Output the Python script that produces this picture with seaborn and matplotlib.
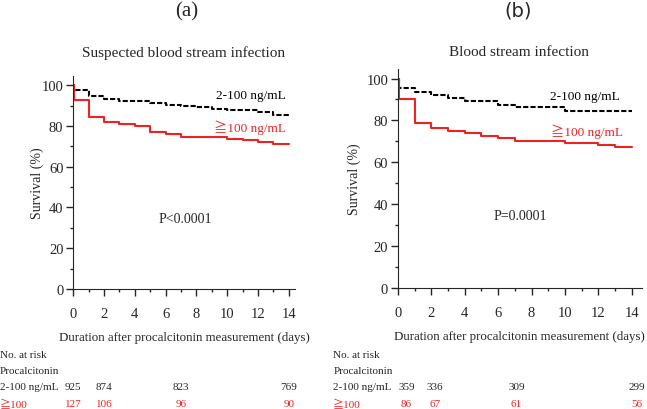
import matplotlib
matplotlib.use('Agg')
import matplotlib.pyplot as plt
import matplotlib.transforms as mtransforms
from matplotlib.ticker import MultipleLocator
import seaborn as sns
import pandas as pd

sns.set_style('ticks')
plt.rcParams['font.family'] = ['Liberation Serif', 'Noto Sans CJK JP', 'DejaVu Sans']

# (a) suspected blood stream infection
a_low_t = [0, 0.05, 1, 2, 3, 5, 6, 7, 8, 9, 10, 12, 13, 14]
a_low_s = [100, 97.7, 94.9, 93.2, 92.1, 91.2, 90.4, 89.8, 89.1, 88.3, 87.6, 86.9, 85.6, 85.6]
a_high_t = [0, 0.05, 1, 2, 3, 4, 5, 6, 7, 10, 11, 12, 13, 14]
a_high_s = [100, 92.8, 84.3, 82.0, 81.0, 80.2, 77.0, 76.0, 74.7, 73.7, 72.9, 72.1, 71.2, 71.2]

# (b) blood stream infection
b_low_t = [0, 0.05, 1, 2, 3, 4, 6, 7, 10, 14]
b_low_s = [100, 95.7, 93.4, 92.2, 90.5, 89.4, 87.3, 86.3, 84.6, 84.6]
b_high_t = [0, 0.05, 1, 2, 3, 4, 5, 6, 7, 10, 12, 13, 14]
b_high_s = [100, 90.1, 78.6, 76.2, 75.1, 74.0, 72.7, 71.6, 70.3, 69.0, 68.1, 67.1, 67.1]

# number at risk
risk_a_low = [925, 874, 823, 769]
risk_a_high = [127, 106, 96, 90]
risk_b_low = [359, 336, 309, 299]
risk_b_high = [86, 67, 61, 56]
risk_x_a = [0, 2, 7, 14]
risk_x_b = [0.5, 2.2, 7.1, 14.3]

RED = '#ee2222'
SERIF = ['Liberation Serif', 'Noto Sans CJK JP']

fig = plt.figure(figsize=(6.47, 4.10), dpi=100)
ax_a = fig.add_axes([0.113, 0.293, 0.343, 0.519])
ax_b = fig.add_axes([0.615, 0.295, 0.377, 0.534])


def draw_panel(ax, lt, ls, ht, hs, xmax, ptext, lab_low, lab_high, ylab_x):
    df_low = pd.DataFrame({'day': lt, 'surv': ls})
    df_high = pd.DataFrame({'day': ht, 'surv': hs})
    sns.lineplot(data=df_low, x='day', y='surv', ax=ax, color='black',
                 drawstyle='steps-post', lw=1.5)
    ax.lines[-1].set_linestyle((0, (2.5, 1)))
    sns.lineplot(data=df_high, x='day', y='surv', ax=ax, color=RED,
                 drawstyle='steps-post', lw=1.5)
    ax.set_xlim(0, xmax)
    ax.set_ylim(0, 104.5)
    ax.xaxis.set_major_locator(MultipleLocator(2))
    ax.xaxis.set_minor_locator(MultipleLocator(1))
    ax.yaxis.set_major_locator(MultipleLocator(20))
    ax.yaxis.set_minor_locator(MultipleLocator(10))
    ax.tick_params(which='major', length=5, width=1, labelsize=10.5, pad=8,
                   labelfontfamily='Liberation Serif')
    ax.tick_params(axis='y', which='major', pad=2)
    ax.tick_params(which='minor', length=2.5, width=1)
    sns.despine(ax=ax)
    ax.set_xlabel('Duration after procalcitonin measurement (days)', fontsize=9.3,
                  family=SERIF, labelpad=8)
    ax.set_ylabel('Survival (%)', fontsize=10, family=SERIF)
    ax.yaxis.set_label_coords(ylab_x, 0.5)
    ax.text(7.3, 34.5, ptext, ha='center', va='center', fontsize=10)
    ax.text(lab_low[0], lab_low[1], '2-100 ng/mL', ha='right', va='center',
            fontsize=9.5, color='black')
    ax.text(lab_high[0], lab_high[1], '\u2267100 ng/mL', ha='right', va='center',
            fontsize=9.5, color=RED)


draw_panel(ax_a, a_low_t, a_low_s, a_high_t, a_high_s, 14.4,
           'P<0.0001', (13.8, 95.2), (13.8, 79.8), -0.13)
draw_panel(ax_b, b_low_t, b_low_s, b_high_t, b_high_s, 14.6,
           'P=0.0001', (13.3, 91.6), (13.5, 75.2), -0.152)

fig.text(0.283, 0.871, 'Suspected blood stream infection', ha='center', va='center',
         fontsize=11)
fig.text(0.802, 0.871, 'Blood stream infection', ha='center', va='center', fontsize=11)

fig.text(0.289, 0.972, '(a)', ha='center', va='center', fontsize=15,
         family='Liberation Serif')
fig.text(0.801, 0.972, '(b)', ha='center', va='center', fontsize=14,
         family='DejaVu Sans')

# number at risk table
rows_y = [0.132, 0.093, 0.054, 0.013]
for ax, x0, xs, low, high in [(ax_a, 0.0, risk_x_a, risk_a_low, risk_a_high),
                              (ax_b, 0.515, risk_x_b, risk_b_low, risk_b_high)]:
    fig.text(x0, rows_y[0], 'No. at risk', fontsize=8, va='center')
    fig.text(x0, rows_y[1], 'Procalcitonin', fontsize=8, va='center')
    fig.text(x0, rows_y[2], '2-100 ng/mL', fontsize=8, va='center')
    fig.text(x0, rows_y[3], '\u2267100', fontsize=8, va='center', color=RED)
    trans = mtransforms.blended_transform_factory(ax.transData, fig.transFigure)
    for x, n1, n2 in zip(xs, low, high):
        ax.text(x, rows_y[2], str(n1), transform=trans, ha='center', va='center',
                fontsize=8, clip_on=False)
        ax.text(x, rows_y[3], str(n2), transform=trans, ha='center', va='center',
                fontsize=8, color=RED, clip_on=False)

fig.savefig('out.png', dpi=100)
